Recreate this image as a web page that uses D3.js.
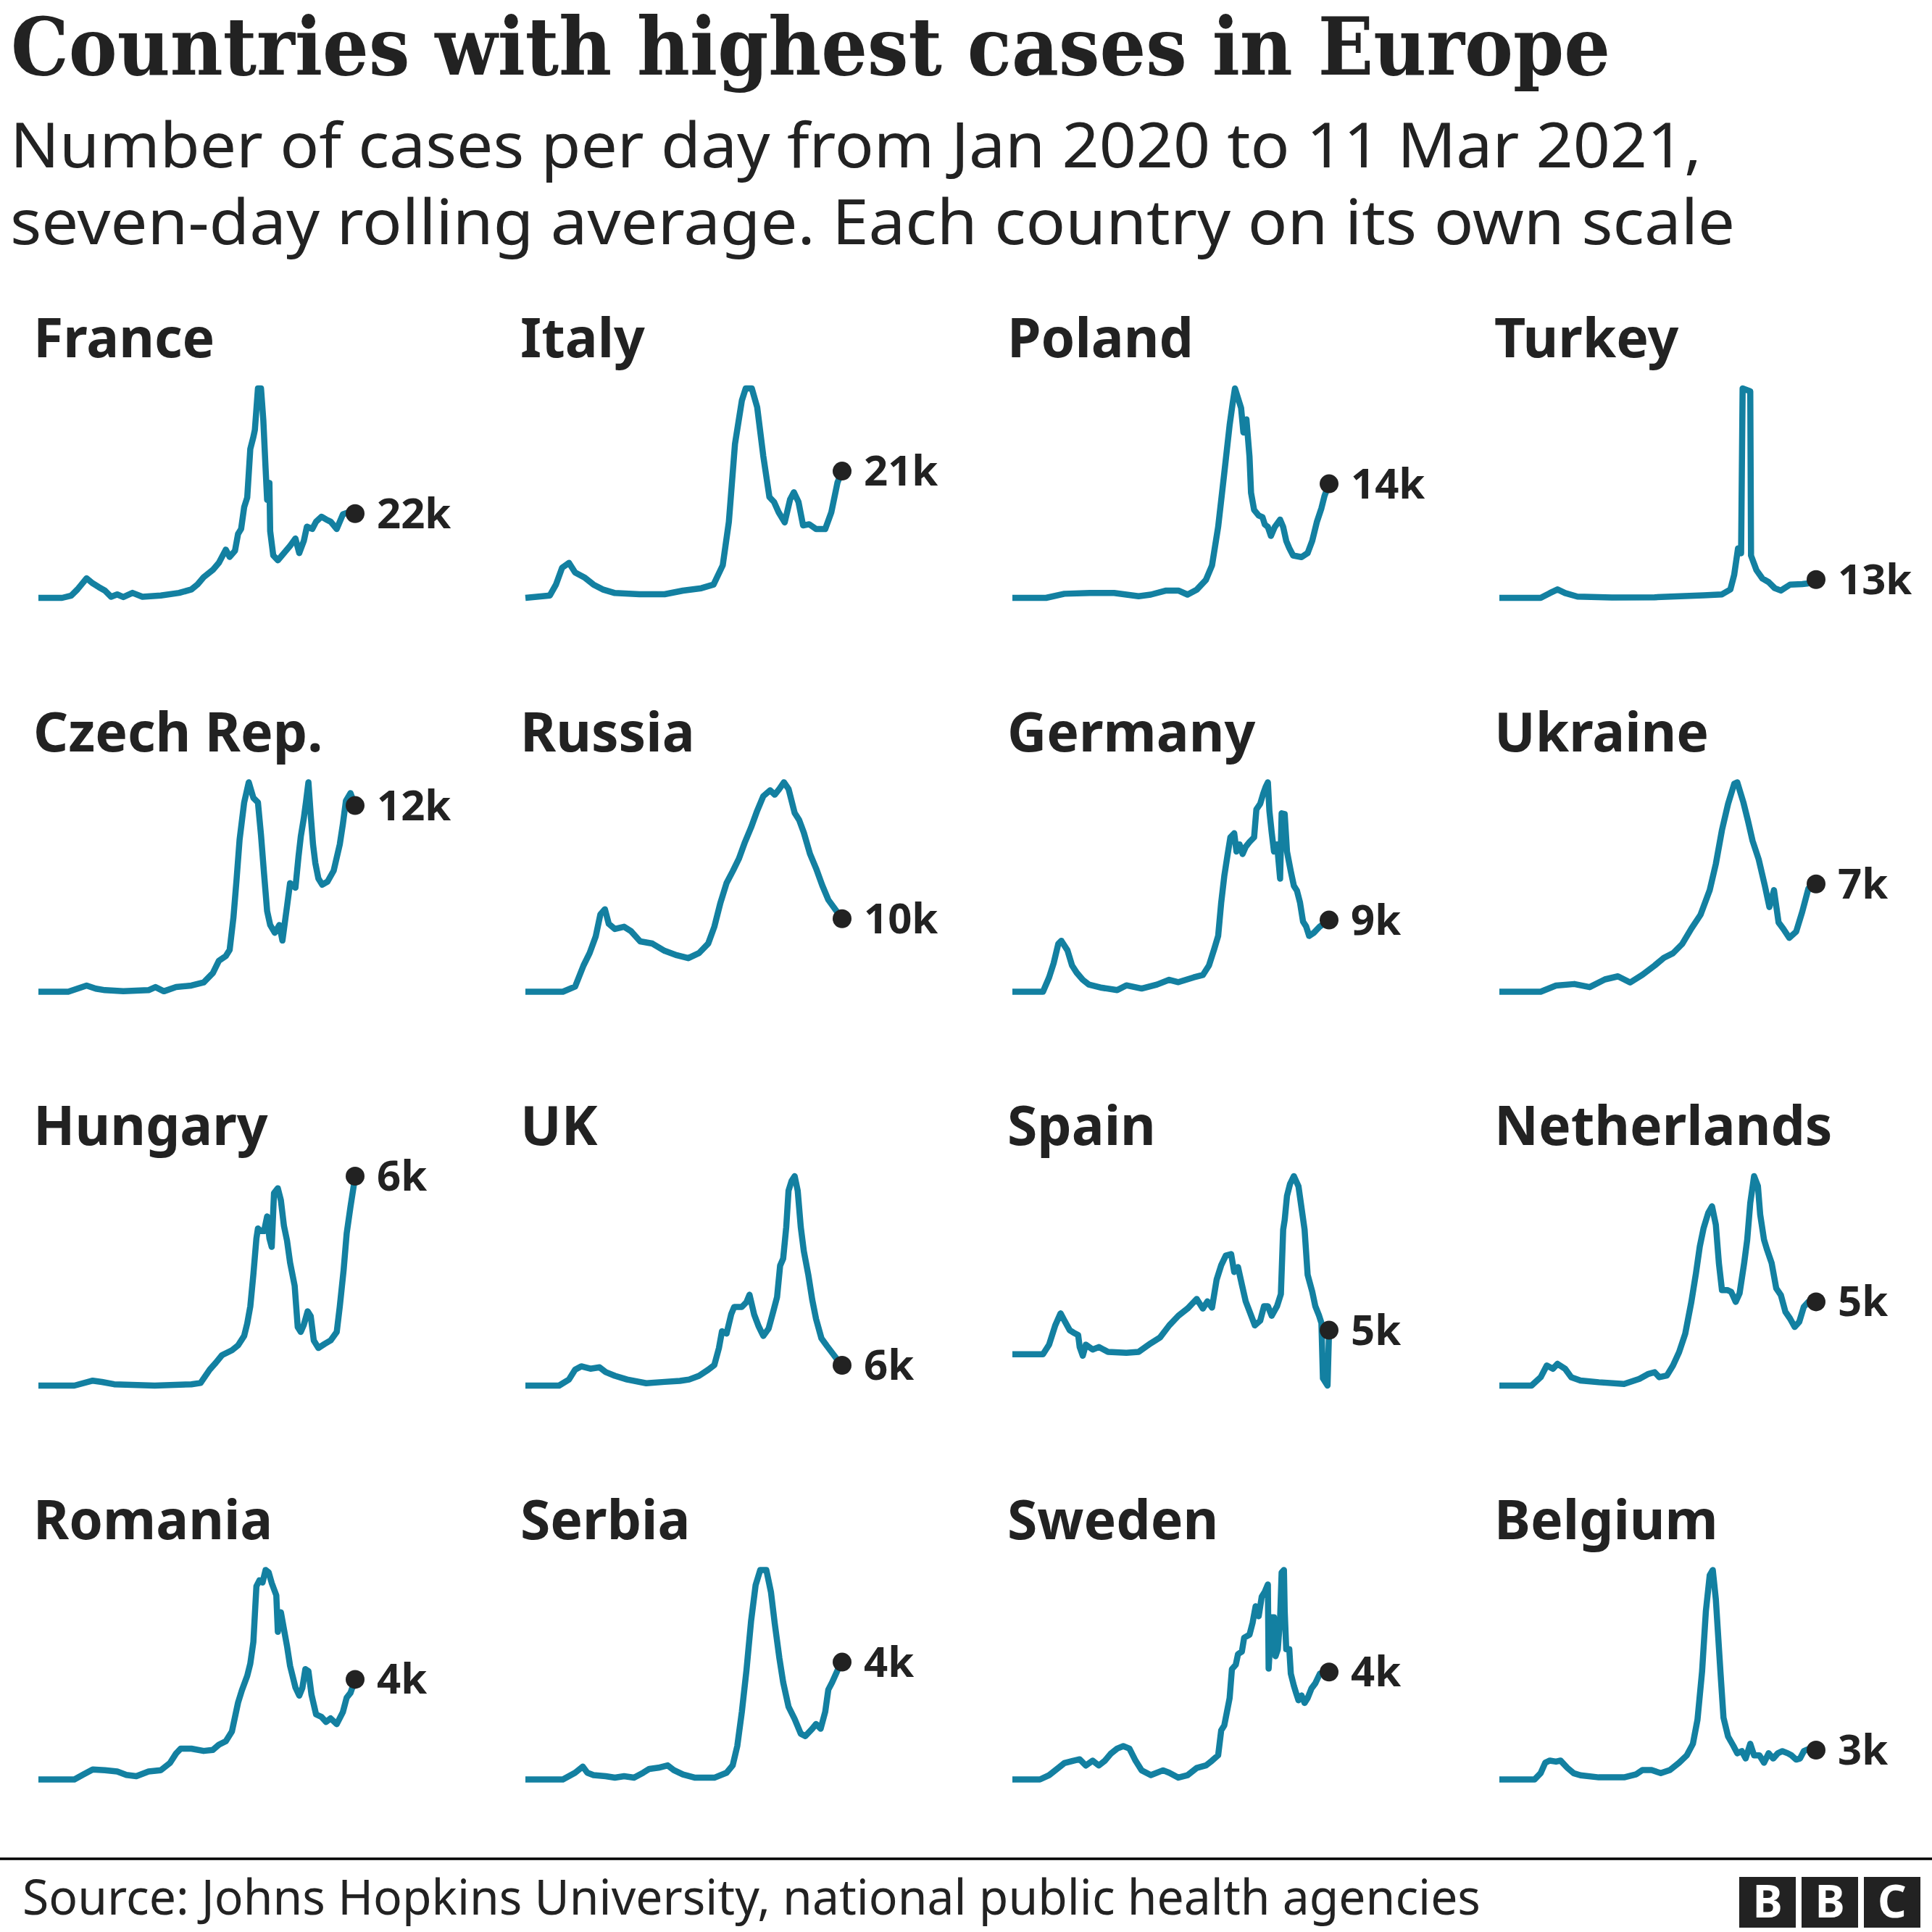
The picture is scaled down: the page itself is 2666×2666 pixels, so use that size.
<!DOCTYPE html>
<html>
<head>
<meta charset="utf-8">
<script src="https://cdn.jsdelivr.net/npm/d3@7"></script>
<style>
  html, body { margin: 0; padding: 0; background: #fff; }
  svg { display: block; }
</style>
</head>
<body>
<script>
// ---------------- DATA ----------------
// Each series: [days since 22 Jan 2020, seven-day average cases per day in thousands]
const startDate = "2020-01-22";
const endDate = "2021-03-11";

const countries = ["France", "Italy", "Poland", "Turkey",
                   "Czech Rep.", "Russia", "Germany", "Ukraine",
                   "Hungary", "UK", "Spain", "Netherlands",
                   "Romania", "Serbia", "Sweden", "Belgium"];

const franceCases = [[0,0],[31,0],[43,0.6],[51,2.2],[63,5.1],[71,3.8],[79,2.8],[87,1.9],[95,0.3],[103,0.9],[111,0.2],[123,1.3],[136,0.3],[160,0.6],[184,1.3],[200,2.2],[208,3.5],[216,5.4],[228,7.3],[236,9.2],[245,12.6],[250,10.7],[257,12.3],[261,16.7],[265,18.0],[269,23.7],[273,26.2],[277,38.9],[281,42.0],[283,43.9],[287,54.7],[291,54.7],[294,46.5],[297,33.8],[299,25.6],[302,30.0],[303,17.4],[307,11.1],[313,9.8],[321,11.7],[329,13.6],[336,15.5],[341,11.7],[347,14.9],[351,18.6],[358,18.0],[363,19.9],[370,21.2],[376,20.5],[382,19.9],[390,18.0],[398,21.8],[406,22.4],[414,22.0]];
const italyCases = [[0,0],[32,0.4],[40,2.2],[48,5.0],[57,5.8],[65,4.2],[77,3.4],[89,2.2],[101,1.4],[117,0.8],[149,0.6],[182,0.6],[206,1.2],[230,1.6],[246,2.2],[258,5.4],[266,12.6],[274,25.5],[283,32.7],[288,34.7],[296,34.7],[303,31.6],[311,23.5],[319,16.7],[325,15.9],[331,14.2],[339,12.5],[346,16.3],[351,17.5],[357,15.9],[363,12.0],[371,12.2],[380,11.4],[392,11.4],[400,14.2],[408,19.1],[414,21.0]];
const polandCases = [[0,0],[44,0],[68,0.5],[101,0.6],[133,0.6],[165,0.2],[181,0.4],[201,0.9],[217,0.9],[229,0.4],[241,1.0],[253,2.2],[261,4.0],[269,8.7],[277,15.3],[284,21.2],[288,23.9],[291,25.7],[295,24.5],[299,23.3],[302,20.3],[306,21.9],[310,17.3],[312,12.9],[316,10.8],[322,10.1],[327,9.9],[330,9.0],[334,8.7],[338,7.6],[343,8.7],[350,9.6],[354,8.7],[358,7.0],[362,6.1],[367,5.2],[378,5.0],[386,5.5],[392,7.0],[398,9.3],[404,11.0],[408,12.5],[414,14.0]];
const turkeyCases = [[0,0],[54,0],[66,3.4],[76,6.0],[86,3.4],[102,0.9],[147,0.3],[203,0.4],[267,1.8],[291,2.5],[302,6.0],[307,16.4],[312,35.2],[316,31.7],[318,149],[328,146.9],[329,30.1],[336,19.8],[344,13.7],[352,11.2],[360,6.9],[368,5.2],[380,9.4],[396,9.8],[404,10.3],[414,13.0]];
const czechCases = [[0,0],[39,0],[51,0.2],[63,0.4],[75,0.2],[87,0.1],[111,0.03],[144,0.1],[153,0.3],[164,0.03],[180,0.3],[200,0.4],[216,0.6],[228,1.2],[236,2.0],[245,2.3],[250,2.7],[255,4.8],[259,7.2],[263,9.8],[269,12.2],[275,13.5],[281,12.5],[287,12.2],[291,10.1],[295,7.6],[299,5.2],[303,4.3],[309,3.8],[315,4.3],[319,3.3],[325,5.5],[329,7.0],[336,6.7],[340,8.7],[343,10.0],[347,11.2],[350,12.3],[353,13.5],[356,11.4],[359,9.5],[362,8.3],[366,7.3],[371,6.9],[378,7.1],[386,7.8],[394,9.5],[398,10.8],[402,12.3],[408,12.8],[414,12.0]];
const russiaCases = [[0,0],[49,0],[65,0.7],[76,3.6],[84,5.3],[92,7.6],[98,10.6],[104,11.3],[109,9.3],[117,8.6],[129,8.9],[138,8.3],[150,6.9],[166,6.6],[182,5.6],[198,5.0],[213,4.6],[227,5.3],[239,6.6],[247,8.9],[255,12.2],[263,14.9],[271,16.5],[279,18.2],[287,20.5],[295,22.5],[303,24.8],[311,26.8],[320,27.6],[326,27.0],[332,27.8],[338,28.7],[344,27.8],[352,24.5],[358,23.5],[364,21.8],[372,18.9],[380,16.9],[388,14.6],[396,12.6],[405,11.3],[414,10.0]];
const germanyCases = [[0,0],[40,0],[48,1.8],[54,3.6],[60,6.0],[64,6.4],[72,5.2],[78,3.3],[84,2.4],[92,1.5],[100,0.9],[117,0.5],[137,0.2],[149,0.8],[169,0.4],[189,0.9],[205,1.5],[217,1.2],[237,1.8],[249,2.1],[257,3.3],[264,5.4],[269,7.0],[273,11.2],[277,14.5],[281,17.0],[285,19.4],[290,19.9],[293,17.6],[297,18.5],[301,17.3],[305,18.2],[310,18.8],[316,19.4],[319,22.9],[324,23.6],[328,24.9],[331,25.7],[334,26.3],[336,22.7],[339,20.0],[342,17.6],[346,18.5],[350,14.2],[352,22.4],[356,22.3],[359,17.6],[364,15.1],[368,13.3],[372,12.7],[376,11.2],[380,8.8],[384,8.2],[388,7.0],[394,7.4],[402,8.2],[414,9.0]];
const ukraineCases = [[0,0],[54,0],[74,0.4],[98,0.5],[118,0.3],[138,0.8],[155,1.0],[171,0.6],[187,1.1],[203,1.7],[215,2.2],[227,2.5],[239,3.1],[251,4.1],[263,5.0],[275,6.6],[283,8.3],[291,10.5],[299,12.2],[307,13.5],[311,13.6],[319,12.3],[325,11.1],[331,9.8],[339,8.6],[347,6.9],[353,5.5],[359,6.6],[365,4.5],[371,4.1],[379,3.5],[388,3.9],[396,5.2],[404,6.7],[414,7.0]];
const hungaryCases = [[0,0],[47,0],[71,0.15],[83,0.11],[99,0.04],[152,0.0],[200,0.04],[212,0.08],[224,0.49],[232,0.70],[240,0.93],[253,1.08],[261,1.23],[269,1.52],[273,1.90],[277,2.42],[281,3.39],[285,4.50],[287,4.80],[291,4.72],[295,4.72],[299,5.17],[302,4.50],[305,4.24],[308,5.88],[313,6.03],[317,5.66],[321,4.88],[325,4.43],[329,3.76],[335,3.05],[339,1.79],[343,1.64],[347,1.86],[352,2.27],[356,2.12],[360,1.38],[366,1.15],[374,1.27],[382,1.38],[390,1.64],[394,2.42],[399,3.53],[403,4.65],[408,5.47],[412,6.07],[414,6.4]];
const ukCases = [[0,0],[44,0],[57,1.8],[65,4.7],[73,5.7],[85,5.0],[97,5.4],[105,4.0],[117,2.9],[133,1.8],[158,0.7],[182,1.1],[202,1.4],[214,1.8],[227,2.9],[239,4.7],[247,6.1],[253,11.1],[257,16.1],[263,15.4],[269,21.1],[273,23.3],[283,23.3],[289,24.7],[293,26.9],[299,21.1],[305,17.5],[311,14.7],[318,16.9],[324,21.9],[329,26.2],[333,35.5],[337,37.6],[341,46.9],[344,57.7],[348,60.6],[352,62.0],[356,57.7],[360,46.9],[364,39.8],[370,32.6],[375,25.4],[380,19.7],[387,14.0],[394,11.8],[401,9.7],[407,7.9],[414,6.0]];
const spainCases = [[0,0],[40,0],[48,2.0],[56,6.0],[63,8.5],[68,7.0],[75,5.0],[80,4.5],[86,4.0],[88,1.5],[92,-0.3],[96,2.0],[105,1.0],[113,1.5],[125,0.5],[149,0.3],[165,0.5],[181,2.3],[193,3.5],[205,6.0],[217,8.0],[229,9.5],[241,11.5],[249,9.5],[255,11.0],[261,9.7],[267,15.5],[273,18.5],[279,20.5],[286,20.8],[290,17.1],[295,18.1],[300,14.5],[305,11.0],[311,8.5],[317,6.0],[324,7.0],[329,10.0],[334,10.0],[339,8.0],[346,10.0],[351,12.5],[354,25.9],[356,27.9],[359,32.9],[363,35.4],[368,37.0],[374,34.9],[378,30.4],[382,25.9],[386,16.5],[392,13.0],[396,10.0],[401,8.0],[404,6.5],[406,-5.0],[412,-6.5],[414,5.0]];
const netherlandsCases = [[0,0],[42,0],[54,0.5],[62,1.2],[70,1.0],[76,1.3],[86,1.0],[94,0.5],[106,0.3],[130,0.2],[163,0.1],[183,0.4],[195,0.7],[203,0.8],[209,0.5],[219,0.6],[227,1.2],[235,2.0],[243,3.1],[251,5.0],[257,6.7],[262,8.3],[267,9.4],[273,10.3],[278,10.7],[283,9.6],[287,7.3],[291,5.7],[298,5.7],[303,5.6],[309,5.0],[314,5.5],[320,7.3],[324,8.7],[328,10.9],[333,12.5],[338,11.9],[341,10.2],[346,8.7],[350,8.1],[356,7.3],[362,5.8],[368,5.4],[374,4.4],[380,4.0],[386,3.5],[392,3.8],[398,4.7],[404,5.0],[414,5.0]];
const romaniaCases = [[0,0],[47,0],[59,0.2],[71,0.4],[87,0.37],[103,0.32],[115,0.18],[128,0.13],[144,0.32],[160,0.37],[172,0.66],[180,1.04],[186,1.23],[200,1.23],[216,1.14],[228,1.18],[236,1.39],[245,1.53],[253,1.92],[261,3.07],[266,3.56],[273,4.14],[277,4.63],[281,5.49],[285,7.72],[289,7.96],[293,7.87],[297,8.37],[301,8.28],[305,7.85],[311,7.36],[313,5.9],[317,6.68],[321,6.0],[325,5.33],[329,4.54],[336,3.68],[341,3.35],[345,3.65],[349,4.41],[353,4.33],[357,3.39],[363,2.6],[370,2.5],[376,2.3],[382,2.44],[390,2.21],[398,2.69],[403,3.27],[408,3.46],[414,4.0]];
const serbiaCases = [[0,0],[49,0],[65,0.23],[75,0.44],[81,0.23],[89,0.15],[105,0.11],[117,0.06],[129,0.11],[142,0.06],[154,0.23],[162,0.36],[174,0.4],[186,0.48],[194,0.32],[206,0.17],[222,0.06],[247,0.06],[263,0.23],[271,0.48],[277,1.14],[283,2.31],[289,3.72],[295,5.39],[301,6.63],[307,7.14],[315,7.14],[321,6.39],[326,5.31],[332,4.14],[337,3.31],[344,2.48],[352,2.06],[360,1.56],[366,1.48],[375,1.73],[380,1.89],[386,1.73],[392,2.31],[396,3.06],[401,3.31],[408,3.72],[414,4.0]];
const swedenCases = [[0,0],[36,0],[48,0.16],[60,0.43],[68,0.61],[80,0.70],[88,0.75],[96,0.52],[105,0.70],[113,0.52],[121,0.70],[129,0.97],[137,1.15],[145,1.24],[153,1.15],[161,0.70],[169,0.34],[181,0.16],[197,0.34],[205,0.25],[217,0.07],[229,0.16],[241,0.43],[253,0.52],[261,0.70],[269,0.90],[273,1.83],[277,2.01],[284,3.03],[287,4.11],[292,4.27],[295,4.67],[300,4.76],[303,5.28],[310,5.39],[314,5.83],[318,6.45],[322,6.08],[326,6.81],[330,6.99],[334,7.26],[335,4.13],[339,6.04],[342,6.04],[344,4.59],[347,4.85],[350,6.0],[352,7.71],[355,7.8],[356,6.27],[358,4.85],[362,4.85],[364,3.94],[368,3.49],[371,3.21],[374,2.95],[378,3.13],[382,2.85],[386,3.03],[391,3.39],[396,3.58],[402,3.94],[414,4.0]];
const belgiumCases = [[0,0],[46,0],[54,0.6],[60,1.6],[66,1.8],[74,1.7],[80,1.8],[89,1.1],[97,0.6],[106,0.4],[130,0.2],[163,0.2],[179,0.5],[187,0.9],[199,0.9],[211,0.6],[223,0.9],[235,1.6],[245,2.3],[253,3.4],[259,5.7],[265,10.3],[270,16.1],[275,19.5],[279,20.0],[283,17.2],[289,10.3],[293,5.9],[299,4.1],[306,3.2],[311,2.5],[317,2.7],[322,2.0],[328,3.4],[333,2.3],[340,2.3],[346,1.6],[352,2.5],[358,2.0],[364,2.5],[370,2.7],[377,2.5],[382,2.3],[388,1.9],[393,2.0],[398,2.7],[404,2.9],[414,2.8]];

const seriesList = [franceCases, italyCases, polandCases, turkeyCases,
                    czechCases, russiaCases, germanyCases, ukraineCases,
                    hungaryCases, ukCases, spainCases, netherlandsCases,
                    romaniaCases, serbiaCases, swedenCases, belgiumCases];

const titleText = "Countries with highest cases in Europe";
const subtitleLines = ["Number of cases per day from Jan 2020 to 11 Mar 2021,",
                       "seven-day rolling average. Each country on its own scale"];
const sourceText = "Source: Johns Hopkins University, national public health agencies";

// ---------------- DRAW ----------------
const W = 2666, H = 2666;
const ink = "#222222", lineColor = "#1380A1";
const sans = "'Noto Sans', 'Open Sans', sans-serif";

const svg = d3.select("body").append("svg")
  .attr("width", W).attr("height", H)
  .attr("viewBox", `0 0 ${W} ${H}`);

svg.append("rect").attr("width", W).attr("height", H).attr("fill", "#fff");

svg.append("text")
  .attr("x", 15).attr("y", 103)
  .attr("font-family", "'DejaVu Serif', serif")
  .attr("font-weight", "bold")
  .attr("font-size", 110)
  .attr("textLength", 2207)
  .attr("lengthAdjust", "spacingAndGlyphs")
  .attr("fill", ink)
  .text(titleText);

const subLens = [2334, 2380];
svg.selectAll("text.sub").data(subtitleLines).join("text")
  .attr("class", "sub")
  .attr("x", 14).attr("y", (d, i) => 231 + i * 106)
  .attr("font-family", sans)
  .attr("font-size", 86)
  .attr("textLength", (d, i) => subLens[i])
  .attr("lengthAdjust", "spacingAndGlyphs")
  .attr("fill", ink)
  .text(d => d);

const parse = d3.utcParse("%Y-%m-%d");
const t0 = parse(startDate), t1 = parse(endDate);
const dayMs = 864e5;

const colStep = 672, rowStep = 543.5;
const panelW = 437, panelH = 289;
const left0 = 53, top0 = 536;

countries.forEach((name, i) => {
  const col = i % 4, row = Math.floor(i / 4);
  const x0 = left0 + col * colStep;
  const top = top0 + row * rowStep;
  const bottom = top + panelH;
  const data = seriesList[i].map(([d, v]) => ({ date: new Date(t0.getTime() + d * dayMs), value: v }));

  const x = d3.scaleUtc().domain([t0, t1]).range([x0, x0 + panelW]);
  const vmin = Math.min(0, d3.min(data, d => d.value));
  const vmax = d3.max(data, d => d.value);
  const y = d3.scaleLinear().domain([vmin, vmax]).range([bottom, top]);

  const g = svg.append("g").attr("class", "panel");

  g.append("text")
    .attr("x", x0 - 7).attr("y", top - 43)
    .attr("font-family", sans)
    .attr("font-weight", "bold")
    .attr("font-size", 75)
    .attr("fill", ink)
    .text(name);

  const line = d3.line().x(d => x(d.date)).y(d => y(d.value));
  g.append("path")
    .datum(data)
    .attr("d", line)
    .attr("fill", "none")
    .attr("stroke", lineColor)
    .attr("stroke-width", 8.5)
    .attr("stroke-linejoin", "round")
    .attr("stroke-linecap", "butt");

  const last = data[data.length - 1];
  const cx = x(last.date), cy = y(last.value);
  g.append("circle").attr("cx", cx).attr("cy", cy).attr("r", 13).attr("fill", ink);
  g.append("text")
    .attr("x", cx + 30).attr("y", cy + 20)
    .attr("font-family", sans)
    .attr("font-weight", "bold")
    .attr("font-size", 58)
    .attr("fill", ink)
    .text(Math.round(last.value) + "k");
});

// footer
svg.append("line")
  .attr("x1", 0).attr("x2", W).attr("y1", 2565).attr("y2", 2565)
  .attr("stroke", "#000").attr("stroke-width", 3.5);

svg.append("text")
  .attr("x", 31).attr("y", 2642)
  .attr("font-family", sans)
  .attr("font-size", 68)
  .attr("textLength", 2012)
  .attr("lengthAdjust", "spacingAndGlyphs")
  .attr("fill", ink)
  .text(sourceText);

const bbc = ["B", "B", "C"];
const logo = svg.append("g");
bbc.forEach((ch, i) => {
  const bx = 2400 + i * 86;
  logo.append("rect").attr("x", bx).attr("y", 2590).attr("width", 78).attr("height", 70).attr("fill", "#222");
  logo.append("text").attr("x", bx + 39).attr("y", 2646)
    .attr("text-anchor", "middle")
    .attr("font-family", sans).attr("font-weight", "bold")
    .attr("font-size", 62).attr("fill", "#fff").text(ch);
});
</script>
</body>
</html>
